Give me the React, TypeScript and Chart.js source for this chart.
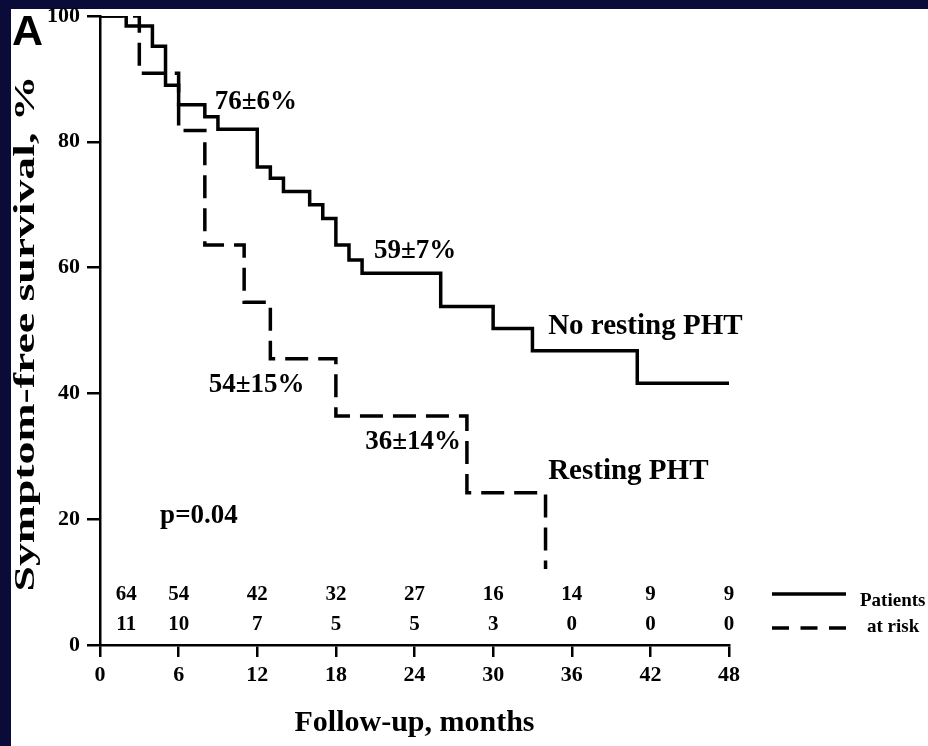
import React, { useEffect, useRef } from 'react';
import { Chart, registerables } from 'chart.js';

Chart.register(...registerables);

// ---- data ----
const noRestMonths = [0, 2, 4, 5, 6, 8, 9, 12, 13, 14, 16, 17, 18, 19, 20, 26, 30, 33, 41, 48];
const noRestSurvival = [100, 98.4, 95.2, 89.0, 85.9, 84.0, 82.0, 76.0, 74.2, 72.1, 70.0, 67.8, 63.6, 61.2, 59.1, 53.8, 50.3, 46.8, 41.6, 41.6];
const restMonths = [0, 3, 6, 8, 11, 13, 18, 28, 34];
const restSurvival = [100, 90.9, 81.8, 63.6, 54.5, 45.5, 36.4, 24.2, 12.1];

const riskMonths = [2, 6, 12, 18, 24, 30, 36, 42, 48];
const riskNoRest = [64, 54, 42, 32, 27, 16, 14, 9, 9];
const riskRest = [11, 10, 7, 5, 5, 3, 0, 0, 0];

const xTickStep = 6;
const yTickStep = 20;

const curveLabels = ['No resting PHT', 'Resting PHT'];
const percentTexts = ['76±6%', '59±7%', '54±15%', '36±14%'];
const pText = 'p=0.04';
const xTitle = 'Follow-up, months';
const yTitle = 'Symptom-free survival, %';
const panelLetter = 'A';
const legendLines = ['Patients', 'at risk'];

// annotation anchor positions (data units: month, %)
const percentPos = [
  { x: 11.9, y: 85.2 },
  { x: 24.05, y: 61.6 },
  { x: 11.95, y: 40.2 },
  { x: 23.9, y: 31.1 },
];
const curveLabelPos = [
  { x: 34.2, y: 49.4 },
  { x: 34.2, y: 26.4 },
];
const pPos = { x: 7.55, y: 19.45 };
const riskRowY = [7.15, 2.4];

const SERIF = "'Liberation Serif', 'Times New Roman', serif";
const SANS = "'Liberation Sans', Arial, sans-serif";
const NAVY = '#0a0b38';

const overlayPlugin = {
  id: 'overlay',
  beforeDraw(chart: any) {
    const ctx = chart.ctx;
    ctx.save();
    ctx.fillStyle = NAVY;
    ctx.fillRect(0, 0, chart.width, chart.height);
    ctx.fillStyle = '#ffffff';
    ctx.fillRect(11, 9, chart.width - 11, chart.height - 9);
    ctx.restore();
  },
  afterDraw(chart: any) {
    const ctx = chart.ctx;
    const xs = chart.scales.x;
    const ys = chart.scales.y;
    const px = (v: number) => xs.getPixelForValue(v);
    const py = (v: number) => ys.getPixelForValue(v);
    ctx.save();
    ctx.fillStyle = '#000';
    ctx.textBaseline = 'alphabetic';

    // percent annotations
    ctx.font = `bold 27px ${SERIF}`;
    ctx.textAlign = 'center';
    percentTexts.forEach((t, i) => ctx.fillText(t, px(percentPos[i].x), py(percentPos[i].y)));

    // p value
    ctx.fillText(pText, px(pPos.x), py(pPos.y));

    // curve labels
    ctx.font = `bold 29px ${SERIF}`;
    ctx.textAlign = 'left';
    curveLabels.forEach((t, i) => ctx.fillText(t, px(curveLabelPos[i].x), py(curveLabelPos[i].y)));

    // numbers at risk
    ctx.font = `bold 21px ${SERIF}`;
    ctx.textAlign = 'center';
    riskMonths.forEach((m, i) => {
      ctx.fillText(String(riskNoRest[i]), px(m), py(riskRowY[0]));
      ctx.fillText(String(riskRest[i]), px(m), py(riskRowY[1]));
    });

    // legend for patients at risk
    const lx0 = xs.right + 43;
    const lx1 = xs.right + 117;
    ctx.strokeStyle = '#000';
    ctx.lineWidth = 3.5;
    ctx.lineCap = 'butt';
    ctx.beginPath();
    ctx.moveTo(lx0, py(riskRowY[0]) - 6);
    ctx.lineTo(lx1, py(riskRowY[0]) - 6);
    ctx.stroke();
    ctx.setLineDash([17, 11.5]);
    ctx.beginPath();
    ctx.moveTo(lx0, py(riskRowY[1]) - 2);
    ctx.lineTo(lx1, py(riskRowY[1]) - 2);
    ctx.stroke();
    ctx.setLineDash([]);
    ctx.font = `bold 19px ${SERIF}`;
    ctx.textAlign = 'left';
    ctx.fillText(legendLines[0], xs.right + 131, py(riskRowY[0]) + 6);
    ctx.fillText(legendLines[1], xs.right + 138, py(riskRowY[1]) + 2);

    // panel letter
    ctx.font = `bold 43px ${SANS}`;
    ctx.textAlign = 'left';
    ctx.fillText(panelLetter, 12, 45);

    // y axis title (stretched along its length like the reference)
    ctx.font = `bold 30px ${SERIF}`;
    const w = ctx.measureText(yTitle).width;
    const targetLen = 516;
    ctx.translate(33.5, (ys.top + ys.bottom) / 2 + 3);
    ctx.rotate(-Math.PI / 2);
    ctx.scale(targetLen / w, 1);
    ctx.textAlign = 'center';
    ctx.fillText(yTitle, 0, 0);
    ctx.restore();
  },
};

export default function App() {
  const ref = useRef<HTMLCanvasElement | null>(null);

  useEffect(() => {
    if (!ref.current) return;
    const chart = new Chart(ref.current, {
      type: 'line',
      data: {
        datasets: [
          {
            label: curveLabels[0],
            data: noRestMonths.map((m, i) => ({ x: m, y: noRestSurvival[i] })),
            borderColor: '#000',
            borderWidth: 3.5,
            stepped: 'before',
            pointRadius: 0,
            fill: false,
            borderJoinStyle: 'miter',
            borderCapStyle: 'butt',
          },
          {
            label: curveLabels[1],
            data: restMonths.map((m, i) => ({ x: m, y: restSurvival[i] })),
            borderColor: '#000',
            borderWidth: 3.5,
            borderDash: [23, 10],
            stepped: 'before',
            pointRadius: 0,
            fill: false,
            borderJoinStyle: 'miter',
            borderCapStyle: 'butt',
          },
        ],
      },
      options: {
        responsive: false,
        animation: false,
        devicePixelRatio: 1,
        layout: { padding: { top: 16, right: 199, left: 0, bottom: 0 } },
        plugins: {
          legend: { display: false },
          tooltip: { enabled: false },
          title: { display: false },
        },
        scales: {
          x: {
            type: 'linear',
            min: 0,
            max: 48,
            afterFit: (s: any) => { s.height = 101; s.paddingLeft = 0; s.paddingRight = 0; },
            ticks: {
              stepSize: xTickStep,
              color: '#000',
              padding: 5,
              font: { family: SERIF, size: 22, weight: 'bold' },
            },
            grid: { display: true, drawOnChartArea: false, drawTicks: true, tickLength: 12, color: '#000', lineWidth: 2.5 },
            border: { display: true, color: '#000', width: 2.5 },
            title: {
              display: true,
              text: xTitle,
              color: '#000',
              font: { family: SERIF, size: 30, weight: 'bold' },
              padding: { top: 0, bottom: 5 },
            },
          },
          y: {
            type: 'linear',
            min: 0,
            max: 100,
            afterFit: (s: any) => { s.width = 100; s.paddingTop = 0; s.paddingBottom = 0; },
            ticks: {
              stepSize: yTickStep,
              color: '#000',
              padding: 7,
              font: { family: SERIF, size: 22, weight: 'bold' },
            },
            grid: { display: true, drawOnChartArea: false, drawTicks: true, tickLength: 13, color: '#000', lineWidth: 2.5 },
            border: { display: true, color: '#000', width: 2.5 },
            title: { display: false },
          },
        },
      },
      plugins: [overlayPlugin],
    } as any);
    return () => chart.destroy();
  }, []);

  return (
    <div style={{ position: 'fixed', left: 0, top: 0, width: 928, height: 746, overflow: 'hidden' }}>
      <canvas ref={ref} width={928} height={746} style={{ display: 'block', width: 928, height: 746 }} />
    </div>
  );
}
